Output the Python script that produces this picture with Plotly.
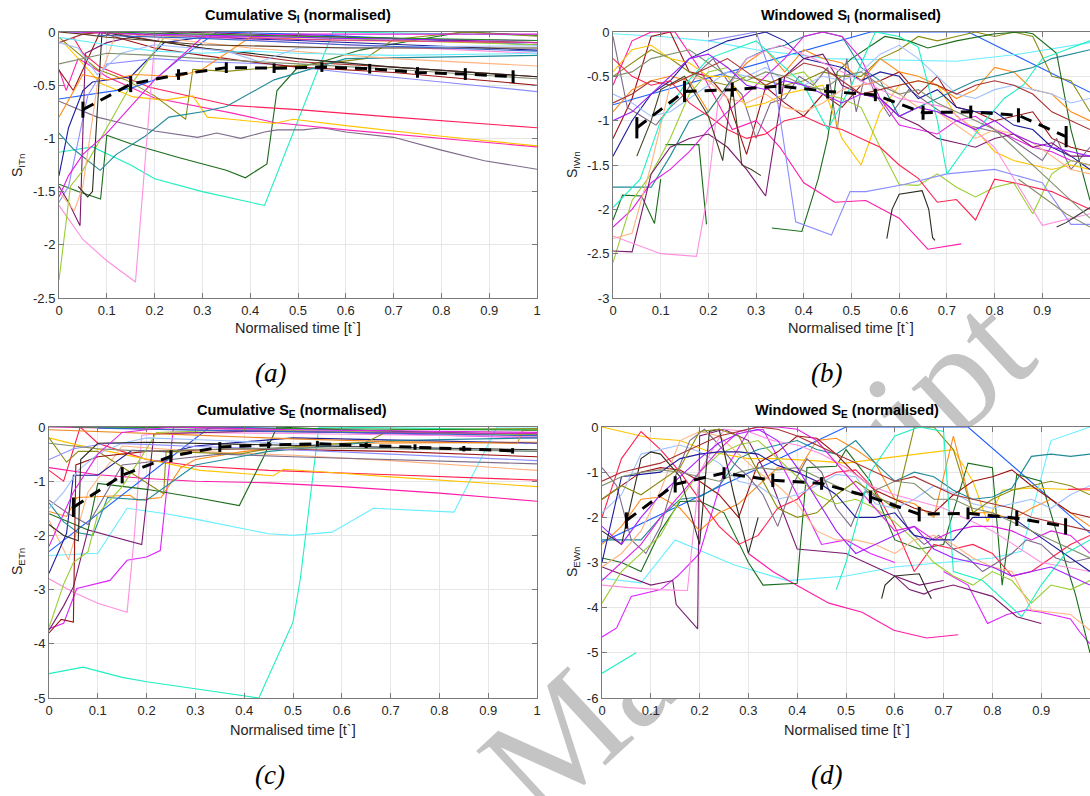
import plotly.graph_objects as go

W, H = 1090, 796

# ---------------------------------------------------------------- data
x_tick_vals = [0, 0.1, 0.2, 0.3, 0.4, 0.5, 0.6, 0.7, 0.8, 0.9, 1]
x_tick_text = ["0", "0.1", "0.2", "0.3", "0.4", "0.5", "0.6", "0.7", "0.8", "0.9", "1"]
a_ytick_vals = [0, -0.5, -1, -1.5, -2, -2.5]
a_ytick_text = ["0", "-0.5", "-1", "-1.5", "-2", "-2.5"]
b_ytick_vals = [0, -0.5, -1, -1.5, -2, -2.5, -3]
b_ytick_text = ["0", "-0.5", "-1", "-1.5", "-2", "-2.5", "-3"]
c_ytick_vals = [0, -1, -2, -3, -4, -5]
c_ytick_text = ["0", "-1", "-2", "-3", "-4", "-5"]
d_ytick_vals = [0, -1, -2, -3, -4, -5, -6]
d_ytick_text = ["0", "-1", "-2", "-3", "-4", "-5", "-6"]

mean_t = [0.05, 0.15, 0.25, 0.35, 0.45, 0.55, 0.65, 0.75, 0.85, 0.95]
a_mean = [-0.73, -0.49, -0.40, -0.335, -0.34, -0.33, -0.345, -0.38, -0.395, -0.42]
a_err = [0.075, 0.075, 0.05, 0.05, 0.045, 0.045, 0.045, 0.05, 0.055, 0.06]
b_mean = [-1.08, -0.67, -0.65, -0.61, -0.67, -0.71, -0.91, -0.90, -0.94, -1.18]
b_err = [0.12, 0.12, 0.08, 0.09, 0.08, 0.07, 0.08, 0.07, 0.08, 0.12]
c_mean = [-1.48, -0.89, -0.54, -0.37, -0.33, -0.31, -0.34, -0.37, -0.40, -0.44]
c_err = [0.18, 0.15, 0.11, 0.09, 0.06, 0.05, 0.05, 0.05, 0.05, 0.05]
d_mean = [-2.07, -1.27, -1.02, -1.18, -1.25, -1.55, -1.93, -1.91, -2.02, -2.20]
d_err = [0.18, 0.18, 0.13, 0.15, 0.14, 0.14, 0.16, 0.13, 0.17, 0.18]

grid_w = [0.0, 0.04, 0.08, 0.12, 0.16, 0.2, 0.24, 0.28, 0.32, 0.36, 0.4, 0.44, 0.48,
          0.52, 0.56, 0.6, 0.64, 0.68, 0.72, 0.76, 0.8, 0.84, 0.88, 0.92, 0.96, 1.0]

# (a) Cumulative S_I
a_t = [
    [0, 0.07, 0.15, 0.2, 0.3, 0.43, 0.573, 0.7, 1],
    [0, 0.04, 0.087, 0.1, 0.15, 0.25, 0.35, 0.39, 0.435, 0.456, 0.5, 0.55, 0.63, 0.69, 0.845, 1],
    [0, 0.05, 0.08, 0.135, 0.2, 0.29, 0.33, 0.38, 0.43, 0.456, 0.51, 0.55, 0.6, 0.7, 0.8, 0.89, 1],
    [0.03, 0.05, 0.086, 0.19, 0.36, 0.5, 0.7, 1],
    [0, 0.015, 0.04, 0.06, 0.1, 0.2, 0.36, 0.45, 0.6, 0.8, 1],
    [0.01, 0.086, 0.155, 0.22, 0.28, 0.31, 0.36, 0.45, 0.49, 0.6, 0.8, 1],
    [0, 0.15, 0.2, 0.25, 0.33, 0.5, 0.7, 1],
    [0, 0.02, 0.05, 0.07, 0.15, 0.22, 0.3, 0.5, 1],
    [0, 0.02, 0.06, 0.1, 0.2, 0.3, 0.44, 0.6, 0.8, 1],
    [0, 0.08, 0.14, 0.2, 0.265, 0.28, 0.35, 0.45, 0.55, 0.64, 0.7, 0.85, 1],
    [0, 0.03, 0.086, 0.12, 0.2, 0.3, 0.4, 0.5, 0.7, 1],
    [0, 0.05, 0.1, 0.2, 0.3, 0.4, 0.5, 0.7, 1],
    [0, 0.03, 0.086, 0.12, 0.18, 0.23, 0.3, 0.35, 0.45, 0.6, 1],
    [0, 0.02, 0.044, 0.055, 0.1, 0.15, 0.19, 0.25, 1],
    [0, 0.05, 0.1, 0.16, 0.2, 0.22, 0.3, 0.5, 1],
    [0, 0.024, 0.05, 0.1, 0.15, 0.22, 0.3, 0.5, 1],
    [0, 0.032, 0.05, 0.08, 0.12, 0.2, 0.4, 0.7, 1],
    [0.04, 0.06, 0.07, 0.09, 0.15, 0.3, 0.5, 0.7, 1],
    [0, 0.1, 0.2, 0.3, 0.4, 0.5, 0.7, 1],
    [0, 0.05, 0.1, 0.16, 0.25, 0.3, 0.4, 0.6, 1],
    [0, 0.04, 0.08, 0.13, 0.2, 0.35, 0.42, 0.5, 0.7, 1],
    [0, 0.1, 0.2, 0.3, 0.5, 0.7, 1],
    [0, 0.02, 0.05, 0.1, 0.14, 0.2, 0.3, 0.5, 1],
    [0, 0.05, 0.1, 0.3, 0.6, 1],
    [0.02, 0.1, 0.3, 0.6, 1],
    [0.05, 0.2, 0.5, 1],
    [0.1, 0.3, 0.6, 1],
    [0.08, 0.3, 0.6, 1],
]
a_y = [
    [-1.13, -1.08, -1.25, -1.38, -1.5, -1.63, 0, -0.01, -0.03],
    [-1.43, -1.5, -1.57, -0.97, -1.05, -1.18, -1.3, -1.37, -1.24, -0.55, -0.33, -0.28, -0.17, -0.12, 0, -0.03],
    [-0.65, -0.74, -0.8, -0.86, -0.93, -0.99, -0.95, -1.0, -0.94, -0.92, -0.92, -0.9, -0.94, -0.99, -1.11, -1.21, -1.29],
    [-0.05, -0.2, -0.33, -0.52, -0.69, -0.73, -0.8, -0.9],
    [-0.35, -0.55, -0.25, -0.3, -0.42, -0.62, -0.76, -0.85, -0.92, -1.0, -1.08],
    [-0.1, -0.48, -0.61, -0.64, -0.6, -0.8, -0.82, -0.86, -0.82, -0.88, -0.98, -1.07],
    [-0.63, -0.53, -0.45, -0.26, 0, -0.02, -0.06, -0.12],
    [-1.35, -0.9, -0.55, -0.47, -0.42, -0.1, -0.05, -0.08, -0.17],
    [-1.6, -1.45, -0.6, -0.3, -0.25, -0.28, -0.3, -0.38, -0.47, -0.56],
    [-0.05, -0.35, -0.45, -0.6, -0.82, -0.35, -0.37, -0.33, -0.3, -0.25, -0.07, 0, -0.04],
    [-0.36, -0.55, 0, -0.05, -0.15, -0.22, -0.28, -0.33, -0.38, -0.5],
    [-0.1, -0.02, 0, -0.08, -0.15, -0.22, -0.28, -0.33, -0.42],
    [-0.95, -1.1, -1.3, -1.15, -0.98, -0.8, -0.75, -0.7, -0.45, -0.25, -0.22],
    [-1.45, -1.6, -1.82, -0.2, -0.1, -0.05, -0.02, 0, -0.1],
    [-1.63, -1.95, -2.15, -2.35, -0.1, -0.02, -0.05, -0.1, -0.2],
    [-2.33, -1.45, -1.3, -0.9, -0.5, -0.05, -0.02, -0.05, -0.12],
    [-1.5, -1.68, -1.45, -0.5, 0, -0.05, -0.15, -0.25, -0.32],
    [-1.45, -1.55, -1.5, 0, -0.05, -0.15, -0.25, -0.33, -0.42],
    [-0.05, -0.12, -0.18, -0.2, -0.18, -0.2, -0.22, -0.2],
    [-0.8, -0.4, -0.45, -0.4, -0.42, -0.35, -0.05, -0.08, -0.1],
    [-0.1, -0.15, -0.4, -0.2, -0.12, -0.18, -0.28, -0.15, -0.14, -0.13],
    [-0.3, -0.2, -0.22, -0.25, -0.3, -0.35, -0.44],
    [-1.55, -1.35, -1.15, -0.95, -0.75, -0.45, -0.05, -0.02, -0.02],
    [0, -0.02, -0.05, -0.12, -0.15, -0.15],
    [0, -0.01, -0.03, -0.06, -0.08],
    [0, -0.03, -0.07, -0.1],
    [0, -0.02, -0.05, -0.08],
    [-0.03, -0.06, -0.12, -0.18],
]

# (b) Windowed S_I
b_t = [
    [0, 0.54, 0.745, 1],
    [0, 0.1, 0.2, 0.3, 0.45, 0.6, 0.72, 0.85, 1],
    grid_w,
    grid_w,
    [0, 0.02, 0.06, 0.087, 0.1, None, 0.11, 0.18, 0.196, None, 0.333, 0.396, 0.43, 0.45, 0.47,
     0.5, 0.57, 0.62, 0.66, 0.72, 0.8, 0.86, 0.88, 0.93, 0.96, 1.0],
    [0, 0.03, 0.06, 0.09, 0.12, 0.15, 0.18, 0.21, 0.24, 0.27, 0.3, 0.33, 0.36, 0.39, 0.42, 0.45,
     0.47, 0.49, 0.51, 0.53, 0.55, 0.58, 0.62, 0.66, 0.7, 0.74, 0.78, 0.82, 0.86, 0.9, 0.93, 0.96, 1.0],
    [0, 0.04, 0.08, 0.13, 0.18, 0.25, 0.3, 0.35, 0.4, 0.465, 0.53, 0.6, 0.66, 0.73],
    grid_w, grid_w, grid_w, grid_w, grid_w, grid_w, grid_w, grid_w, grid_w, grid_w,
    [0, 0.1, 0.175, 0.196, 0.22, 0.28, 0.35, 0.42, 0.5, 0.6, 0.7, 0.8, 0.9, 0.945, 1.0],
    [0.574, 0.585, 0.6, 0.648, 0.662, 0.67, 0.675],
    [0.05, 0.08, 0.1, 0.15, 0.2, 0.23, 0.25, 0.27, 0.29, 0.31],
    [0.2, 0.25, 0.3, 0.34, 0.369, 0.383, 0.458, 0.497, 0.53, 0.61, 0.7, 0.8, 0.9, 0.96, 1.0],
    [0.85, 0.9, 0.95, 1.0],
    [0.93, 0.95, 0.97, 1.0],
    [0, 0.057, 0.1, 0.15, 0.2, 0.3, 0.4, 0.45, 0.5, 0.55, 0.6, 0.64, 0.68, 0.7, 0.74, 0.78, 0.82,
     0.86, 0.9, 0.95, 1.0],
    grid_w, grid_w, grid_w,
]
b_y = [
    [-0.82, 0, 0, -0.68],
    [-0.02, -0.05, -0.1, -0.2, -0.3, -0.32, -0.33, -0.25, -0.12],
    [-1.2, -0.75, -0.05, 0, -0.45, -0.5, -0.75, -1.38, -0.62, -0.8, -0.95, -0.7, -0.85, -0.6, -0.55,
     -0.45, -0.7, -0.5, -0.85, -0.9, -1.0, -0.95, -0.9, -1.2, -1.3, -1.35],
    [-0.5, -0.35, -0.2, -0.3, -0.45, -0.55, -0.6, -0.5, -0.55, -0.6, -0.55, -0.45, -0.5, -0.5, -0.3,
     -0.2, -0.05, -0.1, -0.05, 0, -0.05, 0, -0.05, -0.5, -0.55, -0.9],
    [-2.12, -1.84, -1.85, -2.16, -1.66, None, -1.27, -1.27, -2.17, None, -2.21, -2.25, -1.66, -1.2,
     -0.45, -0.3, -0.05, -0.1, -0.18, -0.1, -0.02, 0, -0.02, -0.24, -1.1, -1.9],
    [-0.05, -0.85, -0.95, -1.05, -0.85, -0.7, -0.45, -0.3, -0.55, -0.7, -1.2, -0.8, -0.75, -0.5, -0.6,
     -0.4, -1.1, -0.3, -0.9, -0.45, -0.7, -0.95, -0.65, -0.8, -0.95, -1.05, -1.1, -1.15, -1.3, -1.45,
     -1.2, -1.55, -1.3],
    [-0.6, -0.1, 0, 0, -0.4, -1.1, -1.0, -1.3, -1.7, -1.92, -1.9, -2.1, -2.45, -2.39],
    [-0.45, -0.2, -0.15, -0.3, -0.35, -0.5, -0.5, -0.85, -0.8, -0.7, -0.65, -0.6, -1.2, -1.5, -0.9,
     -0.6, -0.55, -0.6, -0.95, -1.1, -1.35, -1.45, -1.5, -1.55, -1.5, -1.55],
    [-0.9, -0.65, -0.55, -0.5, -0.55, -0.9, -0.6, -0.35, -0.2, -0.45, -0.2, -0.3, -0.35, -0.55, -0.3,
     -0.45, -0.5, -0.6, -0.75, -0.65, -0.4, -0.45, -0.65, -0.7, -0.9, -1.0],
    [-1.75, -1.75, -1.75, -1.4, -1.0, -0.9, -0.6, -0.3, -0.2, -0.15, -0.05, 0, -0.05, -0.4, -0.55,
     -0.95, -0.85, -0.75, -0.65, -0.55, -0.5, -0.45, -0.4, -0.3, -0.25, -0.2],
    [-1.4, -1.0, -0.7, -0.55, -0.3, -0.2, -0.1, -0.05, 0, -0.1, -0.3, -0.35, -0.4, -0.55, -0.45,
     -0.5, -0.75, -0.65, -0.85, -0.9, -0.9, -1.05, -1.1, -1.3, -1.4, -1.55],
    [-2.2, -2.0, -1.7, -1.55, -1.35, -1.1, -0.9, -0.7, -0.5, -0.3, -0.05, 0, -0.05, -0.3, -0.75,
     -1.05, -1.1, -1.15, -1.0, -0.95, -1.1, -1.2, -1.3, -1.35, -1.45, -1.5],
    [-0.7, -0.8, -0.95, -0.9, -0.75, -0.6, -0.45, -0.5, -0.4, -0.55, -0.6, -0.5, -0.55, -0.45, -0.25,
     -0.15, -0.3, -0.5, -0.7, -0.75, -0.65, -0.6, -0.65, -0.7, -0.8, -0.75],
    [-2.6, -1.9, -1.6, -1.2, -0.7, -0.45, -0.4, -0.55, -0.6, -0.5, -0.45, -0.7, -0.75, -0.85, -1.3,
     -1.72, -1.73, -1.6, -1.75, -1.86, -1.75, -1.7, -2.05, -1.6, -1.45, -1.5],
    [-2.33, -2.27, -1.5, -0.6, -0.5, -0.55, -0.75, -0.8, -0.7, -0.85, -0.9, -0.8, -0.65, -0.6, -0.55,
     -0.7, -0.85, -0.9, -1.05, -1.2, -1.1, -1.15, -1.25, -1.4, -1.55, -1.6],
    [-2.47, -2.48, -1.6, -1.3, -1.2, -1.15, -1.3, -1.55, -1.85, -0.5, -0.3, -0.25, -0.6, -0.7, -0.75,
     -0.95, -1.05, -1.2, -1.25, -1.3, -1.2, -1.15, -1.3, -1.25, -1.4, -1.4],
    [-0.3, -0.5, -0.6, -0.55, -0.8, -0.95, -1.1, -1.2, -1.15, -1.0, -0.95, -1.05, -1.1, -1.2, -1.3,
     -1.5, -1.65, -1.92, -1.89, -2.12, -1.66, -1.7, -1.75, -1.8, -1.9, -2.0],
    [-2.3, -2.5, -2.53, -1.9, -0.8, -0.3, -0.15, -0.3, -0.5, -0.75, -0.85, -1.3, -2.18, -2.12, -2.05],
    [-2.33, -2.0, -1.83, -1.79, -2.0, -2.32, -2.35],
    [-1.4, -1.0, -0.65, -0.5, -0.95, -1.45, -0.6, -1.5, -1.55, -1.62],
    [-0.1, -0.05, 0, -0.6, -1.66, -2.14, -2.29, -1.8, -1.8, -1.72, -1.6, -1.55, -1.7, -2.17, -2.17],
    [-1.66, -1.85, -2.05, -2.2],
    [-2.2, -2.15, -2.08, -1.98],
    [-1.98, -1.66, -1.0, -0.6, -0.3, -0.1, -0.6, -1.1, -0.6, 0, -0.05, -0.17, -1.0, -1.6, -1.3, -1.0,
     -0.75, -0.6, -0.3, -0.2, -0.1],
    [-0.5, -0.45, -0.3, -0.25, -0.2, -0.35, -0.5, -0.55, -0.45, -0.5, -0.6, -0.65, -0.5, -0.45, -0.6,
     -0.7, -0.65, -0.8, -0.9, -1.0, -1.1, -1.3, -1.5, -1.7, -1.9, -2.1],
    [-0.8, -0.7, -0.55, -0.6, -0.5, -0.4, -0.3, -0.45, -0.6, -0.5, -0.35, -0.4, -0.55, -0.7, -0.65,
     -0.6, -0.55, -0.6, -0.7, -0.6, -0.55, -0.6, -0.7, -0.9, -1.0, -1.1],
    [-1.0, -0.9, -0.7, -0.5, -0.3, -0.25, -0.4, -0.6, -0.65, -0.55, -0.6, -0.7, -0.8, -0.7, -0.75,
     -0.95, -0.85, -0.9, -1.0, -1.1, -1.0, -1.15, -1.25, -1.3, -1.35, -1.4],
]

# (c) Cumulative S_E
c_t = [
    [0, 0.07, 0.15, 0.2, 0.3, 0.43, 0.5, 0.515, 0.553, 0.7, 1],
    [0, 0.1, 0.16, 0.24, 0.3, 0.45, 0.5, 0.58, 0.665, 0.83, 0.918, 1],
    [0, 0.03, 0.057, 0.125, 0.16, 0.2, 0.228, 0.255, 0.4, 0.7, 1],
    [0, 0.05, 0.1, 0.16, 0.175, 0.19, 0.25, 0.5, 1],
    [0, 0.05, 0.1, 0.2, 0.3, 0.45, 0.6, 0.8, 1],
    [0, 0.03, 0.064, 0.1, 0.15, 0.2, 0.3, 0.45, 0.7, 1],
    [0, 0.057, 0.15, 0.31, 0.46, 0.48, 0.55, 0.7, 1],
    [0, 0.04, 0.08, 0.15, 0.3, 0.5, 0.7, 1],
    [0, 0.036, 0.057, 0.166, 0.18, 0.23, 0.27, 0.3, 0.4, 0.6, 1],
    [0, 0.33, 0.5, 0.7, 1],
    [0, 0.04, 0.08, 0.1, 0.2, 0.3, 0.39, 0.44, 0.467, 0.6, 0.8, 1],
    [0, 0.036, 0.05, 0.1, 0.17, 0.25, 0.3, 0.5, 1],
    [0, 0.036, 0.06, 0.1, 0.235, 0.24, 0.39, 0.45, 0.55, 0.65, 0.7, 1],
    [0, 0.04, 0.08, 0.15, 0.25, 0.35, 0.5, 0.7, 1],
    [0, 0.03, 0.06, 0.09, 0.12, 0.2, 0.3, 0.45, 0.7, 1],
    [0, 0.03, 0.05, 0.08, 0.19, 0.215, 0.4, 0.7, 1],
    [0, 0.025, 0.05, 0.055, 0.1, 0.2, 0.4, 0.7, 1],
    [0, 0.03, 0.05, 0.08, 0.1, 0.15, 0.2, 0.22, 0.4, 0.7, 1],
    [0, 0.03, 0.06, 0.1, 0.15, 0.2, 0.35, 0.6, 1],
    [0, 0.05, 0.12, 0.2, 0.3, 0.45, 0.7, 1],
    [0, 0.03, 0.06, 0.065, 0.1, 0.2, 0.4, 0.6, 1],
    [0, 0.05, 0.1, 0.2, 0.3, 0.5, 0.7, 1],
    [0, 0.1, 0.3, 0.5, 0.7, 0.96, 0.97, 1],
    [0, 0.1, 0.3, 0.6, 1],
    [0.05, 0.2, 0.5, 1],
    [0.1, 0.3, 0.6, 1],
    [0, 0.02, 0.05, 0.1, 0.15, 0.25, 0.5, 1],
]
c_y = [
    [-4.55, -4.43, -4.62, -4.7, -4.83, -5.0, -3.6, -2.8, 0, -0.02, -0.05],
    [-2.37, -2.33, -1.5, -1.6, -1.7, -1.97, -2.0, -1.94, -1.5, -1.57, 0, 0],
    [-3.72, -3.62, -2.98, -2.83, -2.46, -2.4, -2.28, 0, -0.05, -0.12, -0.2],
    [-2.8, -3.05, -3.25, -3.42, -2.0, -0.15, -0.1, -0.12, -0.18],
    [-0.75, -0.82, -0.88, -0.95, -1.0, -1.03, -1.1, -1.22, -1.37],
    [-0.8, -1.0, 0, -0.3, -0.45, -0.6, -0.72, -0.8, -0.88, -0.98],
    [-0.2, -0.33, -0.5, -0.8, -0.9, -0.78, -0.82, -0.92, -1.1],
    [-1.72, -2.45, -1.2, -0.35, -0.45, -0.52, -0.62, -0.8],
    [-1.56, -1.65, -1.3, -1.26, -1.35, -1.3, -0.75, -0.6, -0.45, -0.3, -0.28],
    [-2.3, 0, -0.03, -0.08, -0.15],
    [-1.6, -1.75, -1.9, -1.04, -1.15, -1.3, -1.45, -0.55, 0, -0.05, -0.1, -0.15],
    [-2.7, -1.96, -0.89, -0.89, -0.43, -0.46, -0.35, -0.2, -0.3],
    [-0.2, -0.65, -0.45, -0.45, -1.23, -0.45, -0.5, -0.4, -0.33, -0.28, -0.05, -0.03],
    [-1.35, -1.6, -1.8, -0.7, -0.6, -0.5, -0.55, -0.6, -0.68],
    [-1.4, -1.75, -1.95, -2.0, -1.3, -1.35, -0.7, -0.45, -0.25, -0.2],
    [-3.75, -3.3, -2.95, -1.9, -2.17, -0.13, -0.08, -0.1, -0.15],
    [-3.8, -3.55, -3.6, -0.7, -0.55, -0.45, -0.4, -0.45, -0.55],
    [-3.7, -2.9, -2.5, -2.3, -1.6, -1.1, -0.4, -0.1, -0.05, -0.1, -0.15],
    [-1.5, -1.2, -0.8, -0.5, -0.3, -0.2, -0.25, -0.35, -0.45],
    [-0.6, -0.4, -0.3, -0.32, -0.36, -0.4, -0.5, -0.62],
    [-1.8, -2.0, -2.1, -0.6, -0.3, -0.28, -0.32, -0.36, -0.42],
    [-0.3, -0.35, -0.4, -0.45, -0.42, -0.38, -0.4, -0.45],
    [-0.05, -0.08, -0.15, -0.22, -0.27, -0.3, -0.07, -0.05],
    [0, -0.02, -0.05, -0.1, -0.12],
    [0, -0.01, -0.03, -0.06],
    [-0.02, -0.06, -0.1, -0.16],
    [-2.2, -1.8, -1.2, -0.5, -0.1, 0, -0.05, -0.1],
]

# (d) Windowed S_E
d_t = [
    [0, 0.5, 0.75, 1],
    [0, 0.08, 0.15, 0.27, 0.38, 0.5, 0.6, 0.7, 0.8, 0.86, 0.92, 1],
    [0.3, 0.35, 0.398, 0.465, 0.533, 0.598, 0.665, 0.73],
    [0, 0.07],
    [0, 0.03, 0.06, 0.12, 0.155, 0.2, 0.25, 0.3, 0.33, 0.4, 0.45, 0.5, 0.55, 0.6],
    [0, 0.05, 0.1, 0.145, 0.152, 0.196, 0.2, 0.25, 0.3, 0.35, 0.4, 0.5, 0.6, 0.65, 0.7],
    [0.7, 0.75, 0.79, 0.83, 0.87, 0.9, 0.96, 0.98, 1.0],
    [0, 0.04, 0.08, 0.12, 0.16, 0.2, 0.25, 0.3, 0.33, 0.4, 0.42, 0.48, 0.5, 0.55, 0.6, 0.65, 0.7,
     0.75, 0.8, 0.82, 0.85, 0.9, 0.95, 0.97, 1.0],
    [0, 0.04, 0.1, 0.16, 0.22, 0.3, 0.36, 0.44, 0.5, 0.57, 0.65, 0.72, 0.76, 0.79, 0.82, 0.88, 1.0],
    grid_w, grid_w, grid_w, grid_w, grid_w,
    [0, 0.03, 0.06, 0.09, 0.12, 0.15, 0.18, 0.21, 0.24, 0.27, 0.3, 0.33, 0.36, 0.39, 0.42, 0.45,
     0.48, 0.51, 0.54, 0.57, 0.6, 0.63, 0.66, 0.69, 0.72, 0.75, 0.78, 0.81, 0.84, 0.87, 0.9, 0.93,
     0.96, 1.0],
    grid_w, grid_w,
    [0, 0.05, 0.12, 0.175, 0.2, 0.25, 0.3, 0.35, 0.4, 0.45, 0.5, 0.55, 0.6, 0.7, 0.8, 0.9, 1.0],
    grid_w, grid_w,
    [0, 0.04, 0.08, 0.1, 0.12, 0.16, 0.2, 0.22, 0.24, 0.27, 0.3, 0.32, None, 0.573, 0.58, 0.6,
     0.65, 0.665, 0.675],
    grid_w, grid_w,
    [0.6, 0.63, 0.66, 0.68, 0.72, 0.8, 0.85, 0.88, 0.9],
    [0.48, 0.5, 0.55, 0.6, 0.65, 0.7, 0.72, 0.78, 0.86, 0.9, 0.95, 1.0],
    [0.955, 1.0],
    grid_w, grid_w,
]
d_y = [
    [-2.55, 0, 0, -2.35],
    [-3.35, -3.45, -2.5, -3.05, -3.4, -3.3, -3.1, -3.0, -2.9, -2.75, -0.3, 0],
    [-2.8, -3.2, -3.5, -3.9, -4.1, -4.5, -4.67, -4.6],
    [-5.45, -5.0],
    [-4.65, -4.45, -3.75, -3.6, -3.3, -2.8, -1.0, -0.1, -0.05, -1.5, -2.6, -2.5, -2.8, -3.0],
    [-3.1, -3.3, -3.5, -3.4, -3.93, -4.47, -0.2, -0.05, -0.3, -1.3, -2.7, -2.8, -3.3, -3.5, -3.4],
    [-3.2, -3.5, -4.35, -4.15, -4.05, -4.1, -4.25, -4.55, -4.8],
    [-2.9, -3.0, -3.2, -2.3, -1.65, -1.64, -1.9, -3.0, -3.5, -3.46, -0.9, -0.87, -0.5, -1.2, -2.5,
     -2.7, -2.6, -0.8, -0.9, -3.5, -1.05, -1.2, -3.0, -3.7, -5.0],
    [0, -0.1, -0.25, -0.3, -0.55, -0.7, -0.7, -0.75, -0.8, -0.7, -0.6, -0.5, -1.2, -2.1, -1.4, -1.35, -1.4],
    [-2.6, -2.2, -1.6, -1.55, -1.8, -2.3, -1.9, -1.7, -1.3, -0.9, -1.0, -0.3, -0.25, -0.5, -0.8,
     -1.6, -1.7, -2.0, -0.2, -1.9, -1.9, -2.05, -1.8, -1.6, -1.9, -2.2],
    [-1.6, -1.3, -1.0, -0.9, -0.95, -1.2, -1.5, -2.0, -0.8, -0.55, -0.2, -0.25, -0.6, -1.05, -1.4,
     -1.6, -1.8, -1.9, -1.5, -1.2, -1.1, -0.95, -1.3, -1.6, -1.9, -2.0],
    [-2.0, -0.7, -0.1, -0.5, -1.0, -1.6, -2.2, -2.6, -2.4, -1.8, -1.6, -1.2, -1.0, -0.95, -1.4,
     -2.2, -3.2, -2.6, -2.7, -2.6, -2.8, -3.3, -3.2, -2.9, -2.6, -2.4],
    [-2.5, -2.5, -2.5, -2.0, -1.6, -1.55, -1.3, -0.7, -0.5, -0.4, -0.3, -0.5, -0.6, -0.3, -0.8,
     -1.2, -1.0, -1.1, -1.4, -1.6, -1.55, -1.35, -0.65, -0.6, -0.65, -0.6],
    [-1.9, -1.5, -0.6, -0.5, -0.4, -0.55, -0.8, -1.2, -1.3, -1.6, -1.5, -1.3, -1.05, -1.1, -1.7,
     -1.8, -1.6, -1.3, -1.45, -1.7, -1.8, -1.7, -1.6, -1.8, -1.5, -1.3],
    [-0.9, -1.3, -2.5, -2.8, -2.2, -1.1, -0.3, -0.05, -0.4, -0.8, -1.1, -1.5, -2.2, -1.3, -0.7,
     -1.0, -1.8, -2.2, -1.4, -1.6, -1.7, -2.3, -2.6, -2.4, -2.7, -2.9, -3.2, -3.0, -2.8, -2.5,
     -2.6, -2.9, -3.0, -2.9],
    [-3.9, -3.2, -2.8, -2.4, -1.6, -1.0, -0.6, -0.4, -0.3, -0.7, -1.1, -1.5, -1.7, -1.6, -1.8,
     -2.1, -2.5, -3.0, -3.3, -3.5, -3.2, -3.4, -3.9, -3.5, -3.6, -3.4],
    [-3.1, -2.8, -2.3, -1.4, -0.3, -0.1, -0.2, -0.6, -1.0, -1.3, -1.7, -2.3, -2.5, -2.5, -2.6,
     -2.8, -2.5, -2.4, -2.6, -2.9, -3.1, -3.2, -4.05, -4.1, -4.15, -4.5],
    [-3.5, -3.55, -3.6, -3.62, -1.0, -0.05, -0.1, -0.3, -0.4, -0.6, -0.9, -1.3, -1.5, -1.8, -2.3, -3.0, -3.2],
    [-3.4, -3.0, -2.6, -2.0, -1.5, -1.0, -0.5, -0.1, 0, 0, -0.05, -0.3, -0.8, -1.3, -1.8,
     -2.3, -2.2, -2.5, -2.3, -2.2, -2.2, -2.3, -2.5, -2.3, -2.4, -2.8],
    [-3.0, -1.1, -1.05, -1.0, -0.7, -0.6, -0.55, -0.55, -0.6, -0.85, -1.0, -1.2, -1.5, -2.0, -2.0,
     -1.9, -2.4, -2.5, -2.5, -2.0, -2.0, -2.0, -2.3, -2.6, -2.9, -3.2],
    [-2.3, -2.6, -0.7, -0.55, -0.6, -1.1, -2.6, -0.1, -0.05, -1.5, -2.8, -2.0, None, -3.8, -3.5,
     -3.3, -3.25, -3.6, -3.8],
    [-1.3, -1.1, -1.0, -0.95, -1.0, -1.1, -1.2, -1.0, -0.9, -0.95, -0.9, -1.1, -1.3, -1.5, -1.4,
     -1.2, -1.25, -1.6, -1.6, -1.8, -1.9, -2.1, -2.3, -2.5, -2.7, -2.9],
    [-1.6, -1.3, -1.5, -1.2, -0.9, -0.1, -0.05, -0.2, -1.0, -1.8, -2.0, -1.9, -1.5, -1.2, -1.5,
     -1.8, 0, 0, -0.5, -1.9, -1.6, -1.4, -1.3, -1.2, -1.3, -1.5],
    [-3.3, -3.6, -3.7, -3.6, -3.5, -3.75, -4.2, -4.3, -4.35],
    [-3.6, -3.0, -1.0, -0.2, 0, -0.1, -3.2, -3.4, -4.2, -3.5, -2.8, -2.5],
    [-1.38, -1.37],
    [-1.2, -1.0, -0.9, -0.8, -0.6, -0.4, -0.2, -0.1, 0, -0.05, -0.2, -0.4, -0.6, -0.8, -1.0,
     -1.2, -1.1, -1.3, -1.5, -1.6, -1.7, -1.8, -2.0, -2.1, -2.2, -2.3],
    [-2.2, -2.6, -2.0, -1.5, -1.1, -0.7, -0.35, -0.15, -0.05, -0.3, -0.9, -1.6, -2.3, -2.8, -2.6,
     -2.4, -2.2, -2.7, -2.9, -3.0, -3.1, -3.3, -3.2, -3.1, -3.3, -3.5],
]

# ---------------------------------------------------------------- style
palette = {
    "aqua": "#1ef0c0", "dkgreen": "#1b6b1b", "graypurple": "#7d6b8a", "redpink": "#ff1f5a",
    "magpink": "#ff2ab4", "gold": "#ffc400", "blue": "#1f5fff", "navy": "#1c1c9c",
    "peri": "#8c8cff", "olive": "#8c8c14", "dkred": "#9b1212", "brownred": "#a83232",
    "teal": "#1f8a99", "purple": "#7a1a70", "ltpink": "#ff8ee0", "ygreen": "#9acd32",
    "peach": "#ffb380", "dark": "#2b2b1f", "ltcyan": "#66eeff", "orange": "#ff8c1a",
    "ltblue": "#9fc0ff", "sage": "#7f8f6f", "magenta": "#e020e0", "dkbrown": "#5a3a1a",
    "violet": "#a020ff", "orchid": "#cc33aa", "forest": "#228b22", "steel": "#3366cc",
    "crimson": "#ff2050", "hotpink": "#ff1aa8", "dkolive": "#404020", "olivegray": "#8a8a6a",
    "dkgray": "#333333", "lilac": "#dd22ff", "orange2": "#ee8822",
}
a_colors = ["aqua", "dkgreen", "graypurple", "redpink", "magpink", "gold", "blue", "navy", "peri",
            "olive", "dkred", "brownred", "teal", "purple", "ltpink", "ygreen", "peach", "dark",
            "ltcyan", "orange", "ltblue", "sage", "magenta", "dkbrown", "violet", "orchid",
            "forest", "steel"]
b_colors = ["blue", "ltcyan", "dkred", "olive", "dkgreen", "graypurple", "hotpink", "gold",
            "orange", "teal", "navy", "magenta", "ltblue", "ygreen", "peach", "purple", "crimson",
            "ltpink", "dark", "dkolive", "peri", "olivegray", "dkgray", "aqua", "sage",
            "brownred", "violet"]
c_colors = ["aqua", "ltcyan", "lilac", "ltpink", "hotpink", "crimson", "gold", "peach", "orange",
            "blue", "dkgreen", "navy", "olive", "graypurple", "teal", "purple", "dkred", "ygreen",
            "ltblue", "peri", "dark", "sage", "orange2", "orchid", "forest", "steel", "magenta"]
d_colors = ["blue", "ltcyan", "hotpink", "aqua", "lilac", "purple", "lilac", "dkgreen", "gold",
            "orange", "dkred", "crimson", "teal", "ltblue", "graypurple", "ygreen", "peach",
            "ltpink", "magenta", "navy", "dark", "sage", "olive", "purple", "aqua", "redpink",
            "brownred", "violet"]

FONT = "Helvetica, Liberation Sans, Arial, sans-serif"
SERIF = "Liberation Serif, Times New Roman, serif"
TXT = "#262626"
LINE = "#7a7a7a"


def px_x(p):
    return p / W


def px_y(p):
    return 1 - p / H


fig = go.Figure()

# hidden full-page subplot (keeps the panels' backgrounds above the watermark)
fig.add_trace(go.Scatter(x=[None], y=[None], xaxis="x", yaxis="y", showlegend=False,
                         hoverinfo="skip"))

panels = [
    ("x2", "y2", a_t, a_y, a_colors, a_mean, a_err),
    ("x3", "y3", b_t, b_y, b_colors, b_mean, b_err),
    ("x4", "y4", c_t, c_y, c_colors, c_mean, c_err),
    ("x5", "y5", d_t, d_y, d_colors, d_mean, d_err),
]
for xa, ya, ts, ys, cols, mean, err in panels:
    for t, y, c in zip(ts, ys, cols):
        fig.add_trace(go.Scatter(x=t, y=y, mode="lines", xaxis=xa, yaxis=ya,
                                 line=dict(color=palette[c], width=1.1),
                                 showlegend=False, hoverinfo="skip", connectgaps=False))
    fig.add_trace(go.Scatter(x=mean_t, y=mean, mode="lines", xaxis=xa, yaxis=ya,
                             line=dict(color="black", width=3, dash="12px,8px"),
                             error_y=dict(type="data", array=err, visible=True, color="black",
                                          thickness=3, width=0),
                             showlegend=False, hoverinfo="skip"))


def xaxis(domain, anchor):
    return dict(domain=domain, anchor=anchor, range=[0, 1], tickvals=x_tick_vals,
                ticktext=x_tick_text, showline=True, linecolor=LINE, linewidth=1,
                mirror="ticks", ticks="inside", ticklen=5, tickcolor=LINE, showgrid=True,
                gridcolor="#e6e6e6", zeroline=False, fixedrange=True, automargin=False,
                tickfont=dict(family=FONT, size=13, color=TXT))


def yaxis(domain, anchor, rng, vals, text, mirror):
    return dict(domain=domain, anchor=anchor, range=rng, tickvals=vals, ticktext=text,
                showline=True, linecolor=LINE, linewidth=1, mirror=mirror, ticks="inside",
                ticklen=5, tickcolor=LINE, showgrid=True, gridcolor="#e6e6e6", zeroline=False,
                fixedrange=True, automargin=False, tickfont=dict(family=FONT, size=13, color=TXT))


top_dom = [px_y(298), px_y(32)]
bot_dom = [px_y(698), px_y(427)]
a_dom = [px_x(59), px_x(537)]
b_dom = [px_x(613), 1.0]
c_dom = [px_x(49), px_x(537)]
d_dom = [px_x(602), 1.0]

annotations = []


def ann(text, x, y, size=14, bold=False, angle=0, family=FONT, italic=False, color="black"):
    t = "<b>%s</b>" % text if bold else text
    t = "<i>%s</i>" % t if italic else t
    annotations.append(dict(text=t, x=px_x(x), y=px_y(y), xref="paper", yref="paper",
                            showarrow=False, textangle=angle, xanchor="center",
                            yanchor="middle", font=dict(family=family, size=size, color=color)))


ann("Cumulative S<sub>I</sub> (normalised)", 298, 16, size=14.5, bold=True)
ann("Windowed S<sub>I</sub> (normalised)", 851, 16, size=14.5, bold=True)
ann("Cumulative S<sub>E</sub> (normalised)", 292, 411, size=14.5, bold=True)
ann("Windowed S<sub>E</sub> (normalised)", 847, 411, size=14.5, bold=True)
for cx, cy in [(298, 328), (851, 328), (293, 730), (847, 730)]:
    ann("Normalised time [t`]", cx, cy, size=14.5, color=TXT)
ann("S<sub>ITn</sub>", 18, 165, angle=-90, color=TXT)
ann("S<sub>IWn</sub>", 573, 165, angle=-90, color=TXT)
ann("S<sub>ETn</sub>", 18, 562, angle=-90, color=TXT)
ann("S<sub>EWn</sub>", 573, 562, angle=-90, color=TXT)
ann("(a)", 270, 373, size=27, family=SERIF, italic=True)
ann("(b)", 826, 373, size=27, family=SERIF, italic=True)
ann("(c)", 270, 775, size=27, family=SERIF, italic=True)
ann("(d)", 826, 775, size=27, family=SERIF, italic=True)

fig.update_layout(
    width=W, height=H, margin=dict(l=0, r=0, t=0, b=0, pad=0, autoexpand=False),
    paper_bgcolor="white", plot_bgcolor="white", showlegend=False,
    xaxis=dict(domain=[0, 1], anchor="y", visible=False, range=[0, 1], fixedrange=True),
    yaxis=dict(domain=[0, 1], anchor="x", visible=False, range=[0, 1], fixedrange=True),
    xaxis2=xaxis(a_dom, "y2"),
    yaxis2=yaxis(top_dom, "x2", [-2.5, 0], a_ytick_vals, a_ytick_text, "ticks"),
    xaxis3=xaxis(b_dom, "y3"),
    yaxis3=yaxis(top_dom, "x3", [-3, 0], b_ytick_vals, b_ytick_text, False),
    xaxis4=xaxis(c_dom, "y4"),
    yaxis4=yaxis(bot_dom, "x4", [-5, 0], c_ytick_vals, c_ytick_text, "ticks"),
    xaxis5=xaxis(d_dom, "y5"),
    yaxis5=yaxis(bot_dom, "x5", [-6, 0], d_ytick_vals, d_ytick_text, False),
    annotations=annotations,
)

# watermark, drawn beneath the panels
fig.add_shape(type="line", xref="paper", yref="paper", layer="below",
              x0=px_x(480), y0=px_y(790), x1=px_x(1010), y1=px_y(300),
              line=dict(color="rgba(0,0,0,0)", width=1),
              label=dict(text="Manuscript", textposition="middle", yanchor="middle",
                         font=dict(family=SERIF, size=150, color="#c4c4c4")))

fig.write_html("out.html", config={"responsive": False, "displayModeBar": False})
